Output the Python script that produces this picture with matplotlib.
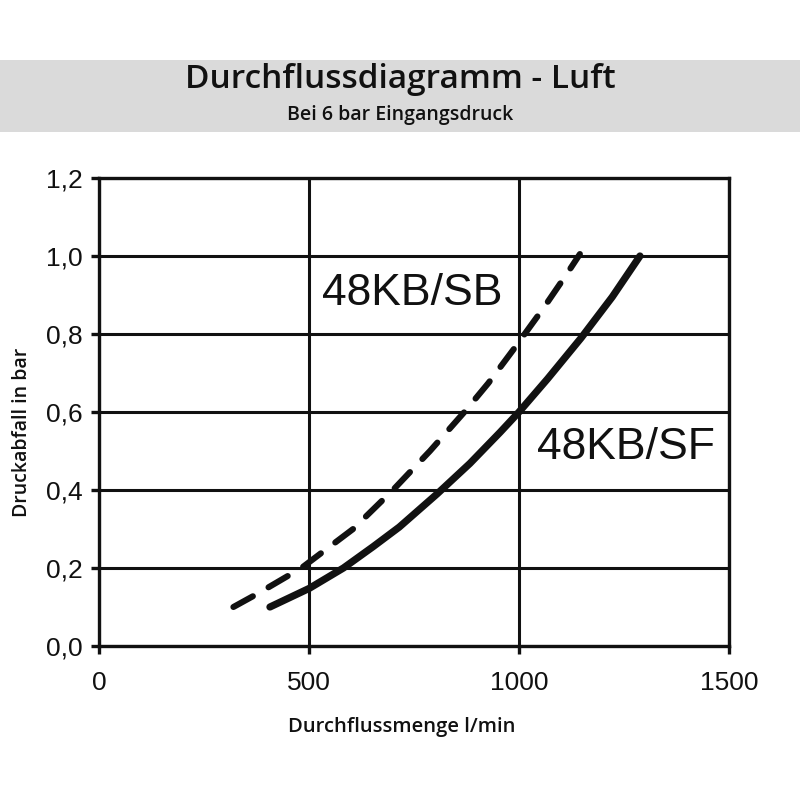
import matplotlib
matplotlib.use("Agg")
import matplotlib.pyplot as plt
from matplotlib.patches import Rectangle

# Data
sf_flow = [407, 501, 582, 653, 715, 805, 883, 955, 1000, 1068, 1148, 1222, 1288]
sf_drop = [0.10, 0.148, 0.20, 0.255, 0.305, 0.39, 0.468, 0.548, 0.60, 0.685, 0.79, 0.895, 1.00]
sb_flow = [320, 379, 482, 605, 700, 788, 870, 927, 986, 1058, 1112, 1145]
sb_drop = [0.10, 0.135, 0.20, 0.30, 0.40, 0.50, 0.60, 0.674, 0.759, 0.866, 0.951, 1.005]
x_ticks = [0, 500, 1000, 1500]
y_ticks = [0.0, 0.2, 0.4, 0.6, 0.8, 1.0, 1.2]
y_tick_labels = ["0,0", "0,2", "0,4", "0,6", "0,8", "1,0", "1,2"]

title = "Durchflussdiagramm - Luft"
subtitle = "Bei 6 bar Eingangsdruck"
xlabel = "Durchflussmenge l/min"
ylabel = "Druckabfall in bar"

fig = plt.figure(figsize=(8, 8), dpi=100)
fig.patch.set_facecolor("white")

# grey title band
fig.patches.append(Rectangle((0, 1 - 132 / 800), 1, (132 - 60) / 800,
                             transform=fig.transFigure, facecolor="#dadada",
                             edgecolor="none", zorder=0))
fig.text(0.5, 1 - 80 / 800, title, ha="center", va="center",
         fontsize=24, family="Open Sans", weight="semibold", color="#111111")
fig.text(0.5, 1 - 115 / 800, subtitle, ha="center", va="center",
         fontsize=14, family="Open Sans", weight="semibold", color="#111111")

ax = fig.add_axes([99 / 800, 1 - 646 / 800, 630 / 800, 468 / 800])
ax.set_xlim(0, 1500)
ax.set_ylim(0, 1.2)

ax.plot(sf_flow, sf_drop, color="#111111", lw=5.2, solid_capstyle="round",
        solid_joinstyle="round", zorder=3)
lw_d = 4.4
ax.plot(sb_flow, sb_drop, color="#111111", lw=lw_d,
        ls=(0, (16 / lw_d, 13 / lw_d)), dash_capstyle="round",
        dash_joinstyle="round", zorder=3)

ax.text(745, 0.903, "48KB/SB", ha="center", va="center", fontsize=32,
        family="Liberation Sans", color="#111111")
ax.text(1255, 0.508, "48KB/SF", ha="center", va="center", fontsize=32,
        family="Liberation Sans", color="#111111")

ax.set_xticks(x_ticks)
ax.set_yticks(y_ticks)
ax.set_yticklabels(y_tick_labels)
ax.grid(True, color="#111111", lw=2.2)
ax.set_axisbelow(True)
for s in ax.spines.values():
    s.set_linewidth(2.4)
    s.set_color("#111111")
ax.tick_params(axis="both", direction="out", length=6, width=2.4, color="#111111",
               labelsize=19, labelcolor="#111111", pad=6)
for lab in ax.get_xticklabels() + ax.get_yticklabels():
    lab.set_family("Liberation Sans")
ax.tick_params(axis="x", pad=12)

fig.text(0.5 + 2 / 800, 1 - 727 / 800, xlabel, ha="center", va="center",
         fontsize=14.5, family="Open Sans", weight="semibold", color="#111111")
fig.text(22 / 800, 1 - 432 / 800, ylabel, ha="center", va="center", rotation=90,
         fontsize=14, family="Open Sans", weight="semibold", color="#111111")

fig.savefig("out.png", dpi=100)
